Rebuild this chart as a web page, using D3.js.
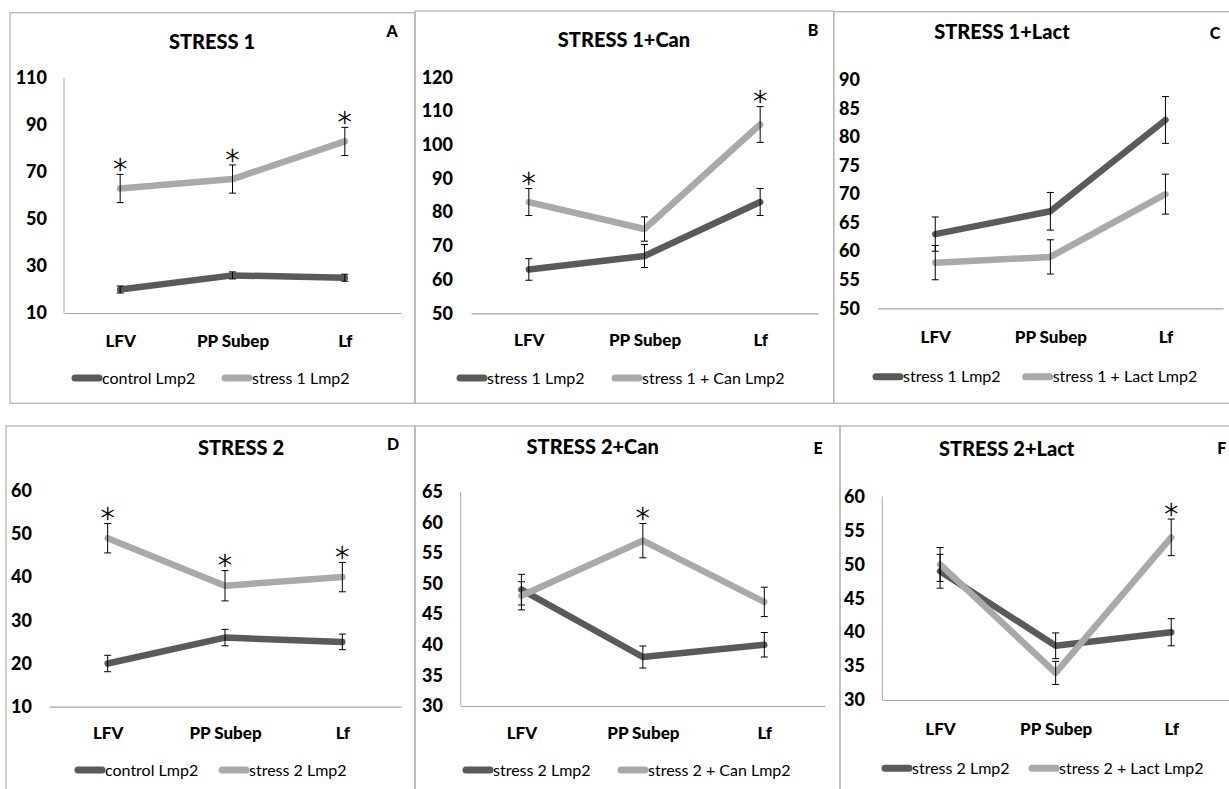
<!DOCTYPE html>
<html>
<head>
<meta charset="utf-8">
<script src="https://cdn.jsdelivr.net/npm/d3@7"></script>
<style>
  html, body { margin: 0; padding: 0; background: #fff; }
  svg { display: block; }
  text { font-family: Lato, "Liberation Sans", sans-serif; fill: #000; }
</style>
</head>
<body>
<svg id="chart" width="1229" height="789"></svg>
<script>
// ---------------- DATA ----------------
const categories = ["LFV", "PP Subep", "Lf"];

// Panel A: STRESS 1
const aTicks = [10, 30, 50, 70, 90, 110];
const aControl = [20, 26, 25];
const aControlErr = [1.5, 1.5, 1.5];
const aStress1 = [63, 67, 83];
const aStress1Err = [6, 6, 6];
const aStars = [true, true, true];

// Panel B: STRESS 1+Can
const bTicks = [50, 60, 70, 80, 90, 100, 110, 120];
const bStress1 = [63, 67, 83];
const bStress1Err = [3.2, 3.4, 4];
const bCan = [83, 75, 106];
const bCanErr = [4, 3.6, 5.3];
const bStars = [true, false, true];

// Panel C: STRESS 1+Lact
const cTicks = [50, 55, 60, 65, 70, 75, 80, 85, 90];
const cStress1 = [63, 67, 83];
const cStress1Err = [3, 3.3, 4.1];
const cLact = [58, 59, 70];
const cLactErr = [3, 3, 3.5];
const cStars = [false, false, false];

// Panel D: STRESS 2
const dTicks = [10, 20, 30, 40, 50, 60];
const dControl = [20, 26, 25];
const dControlErr = [1.9, 1.9, 1.8];
const dStress2 = [49, 38, 40];
const dStress2Err = [3.4, 3.5, 3.4];
const dStars = [true, true, true];

// Panel E: STRESS 2+Can
const eTicks = [30, 35, 40, 45, 50, 55, 60, 65];
const eStress2 = [49, 38, 40];
const eStress2Err = [2.5, 1.8, 2];
const eCan = [48, 57, 47];
const eCanErr = [2.3, 2.8, 2.4];
const eStars = [false, true, false];

// Panel F: STRESS 2+Lact
const fTicks = [30, 35, 40, 45, 50, 55, 60];
const fStress2 = [49, 38, 40];
const fStress2Err = [2.5, 1.9, 2];
const fLact = [50, 34, 54];
const fLactErr = [2.5, 1.7, 2.7];
const fStars = [false, false, true];

const titles = ["STRESS 1", "STRESS 1+Can", "STRESS 1+Lact", "STRESS 2", "STRESS 2+Can", "STRESS 2+Lact"];
const letters = ["A", "B", "C", "D", "E", "F"];
const legendNames = [
  ["control Lmp2", "stress 1 Lmp2"],
  ["stress 1 Lmp2", "stress 1 + Can Lmp2"],
  ["stress 1 Lmp2", "stress 1 + Lact Lmp2"],
  ["control Lmp2", "stress 2 Lmp2"],
  ["stress 2 Lmp2", "stress 2 + Can Lmp2"],
  ["stress 2 Lmp2", "stress 2 + Lact Lmp2"]
];

// ---------------- STYLE / LAYOUT ----------------
const darkColor = "#5a5a5a";
const lightColor = "#a9a9a9";
const frameColor = "#b4b4b4";
const axisColor = "#a6a6a6";
const FONT = "Lato, 'Liberation Sans', sans-serif";

const panels = [
  { ticks: aTicks, dark: aControl, darkErr: aControlErr, light: aStress1, lightErr: aStress1Err, stars: aStars,
    frame: [10, 12.7, 405, 390.6], x0: 64, x1: 401, yTop: 78, yBot: 313, yLine: true, tickRight: 47,
    title: [212, 42], letter: [392, 31], catY: 341, legY: 378, leg: [72, 222] },
  { ticks: bTicks, dark: bStress1, darkErr: bStress1Err, light: bCan, lightErr: bCanErr, stars: bStars,
    frame: [415, 11, 418.7, 392.3], x0: 471, x1: 818, yTop: 77.3, yBot: 313.3, yLine: false, tickRight: 453,
    title: [624, 40], letter: [813, 30], catY: 340, legY: 378, leg: [457, 612] },
  { ticks: cTicks, dark: cStress1, darkErr: cStress1Err, light: cLact, lightErr: cLactErr, stars: cStars,
    frame: [833.7, 11.7, 420, 391.6], x0: 877.7, x1: 1223, yTop: 80, yBot: 308.3, yLine: false, tickRight: 860,
    title: [1002, 32], letter: [1215, 33], catY: 336.7, legY: 376.7, leg: [873, 1022.7] },
  { ticks: dTicks, dark: dControl, darkErr: dControlErr, light: dStress2, lightErr: dStress2Err, stars: dStars,
    frame: [6, 426, 409, 420], x0: 49, x1: 401, yTop: 490.7, yBot: 706.7, yLine: false, tickRight: 32,
    title: [241, 448], letter: [393, 444], catY: 732.7, legY: 770, leg: [75, 219] },
  { ticks: eTicks, dark: eStress2, darkErr: eStress2Err, light: eCan, lightErr: eCanErr, stars: eStars,
    frame: [415, 426, 425, 420], x0: 460.7, x1: 825, yTop: 491.7, yBot: 706, yLine: true, tickRight: 443,
    title: [592.7, 446.7], letter: [818, 448], catY: 732.7, legY: 770, leg: [463, 618] },
  { ticks: fTicks, dark: fStress2, darkErr: fStress2Err, light: fLact, lightErr: fLactErr, stars: fStars,
    frame: [840, 426, 420, 420], x0: 882.3, x1: 1229, yTop: 496.7, yBot: 700, yLine: true, tickRight: 865,
    title: [1006.7, 449.3], letter: [1221.7, 448], catY: 729.3, legY: 768.3, leg: [882, 1029] }
];

const svg = d3.select("#chart");

panels.forEach((p, i) => {
  const g = svg.append("g");

  // frame
  g.append("rect")
    .attr("x", p.frame[0]).attr("y", p.frame[1])
    .attr("width", p.frame[2]).attr("height", p.frame[3])
    .attr("fill", "none").attr("stroke", frameColor).attr("stroke-width", 1.3);

  const y = d3.scaleLinear()
    .domain([p.ticks[0], p.ticks[p.ticks.length - 1]])
    .range([p.yBot, p.yTop]);
  const x = d3.scalePoint().domain(categories).range([p.x0, p.x1]).padding(0.5);

  // y axis labels
  const ya = g.append("g")
    .attr("transform", `translate(${p.tickRight},0)`)
    .call(d3.axisLeft(y).tickValues(p.ticks).tickSize(0).tickPadding(0).tickFormat(d3.format("d")));
  ya.attr("font-family", FONT).attr("font-size", 18).attr("font-weight", "bold");
  ya.select(".domain").remove();
  ya.selectAll("text")
    .style("font-family", FONT).style("font-size", "18px").style("font-weight", "900").attr("fill", "#000");

  if (p.yLine) {
    g.append("line")
      .attr("x1", p.x0).attr("x2", p.x0)
      .attr("y1", p.yTop).attr("y2", p.yBot)
      .attr("stroke", axisColor).attr("stroke-width", 1);
  }

  // x axis
  const xa = g.append("g")
    .attr("transform", `translate(0,${p.yBot})`)
    .call(d3.axisBottom(x).tickSize(0).tickSizeOuter(0));
  xa.attr("font-family", FONT);
  xa.select(".domain").attr("stroke", axisColor).attr("stroke-width", 1.2);
  xa.selectAll("text")
    .attr("y", p.catY - p.yBot).attr("dy", "0.35em")
    .style("font-family", FONT).style("font-size", "17px").style("font-weight", "900").attr("fill", "#000");

  // lines
  const line = d3.line().x((d, k) => x(categories[k])).y(d => y(d));
  g.append("path").datum(p.dark).attr("d", line)
    .attr("fill", "none").attr("stroke", darkColor).attr("stroke-width", 6.5)
    .attr("stroke-linejoin", "round").attr("stroke-linecap", "round");
  g.append("path").datum(p.light).attr("d", line)
    .attr("fill", "none").attr("stroke", lightColor).attr("stroke-width", 6.5)
    .attr("stroke-linejoin", "round").attr("stroke-linecap", "round");

  // error bars
  [[p.dark, p.darkErr], [p.light, p.lightErr]].forEach(([vals, errs]) => {
    vals.forEach((v, k) => {
      const cx = x(categories[k]);
      const yt = y(v + errs[k]), yb = y(v - errs[k]);
      const eg = g.append("g").attr("stroke", "#000").attr("stroke-width", 1);
      eg.append("line").attr("x1", cx).attr("x2", cx).attr("y1", yt).attr("y2", yb);
      eg.append("line").attr("x1", cx - 3.5).attr("x2", cx + 3.5).attr("y1", yt).attr("y2", yt);
      eg.append("line").attr("x1", cx - 3.5).attr("x2", cx + 3.5).attr("y1", yb).attr("y2", yb);
    });
  });

  // significance stars
  const starSize = 28;
  p.stars.forEach((s, k) => {
    if (!s) return;
    const cx = x(categories[k]);
    const cy = y(p.light[k] + p.lightErr[k]) - 11;
    g.append("text")
      .attr("x", cx).attr("y", cy + 0.56 * starSize)
      .attr("text-anchor", "middle")
      .style("font-family", "'DejaVu Sans', sans-serif")
      .style("font-weight", "200")
      .style("font-size", starSize + "px")
      .attr("fill", "#111").attr("stroke", "#111").attr("stroke-width", 0.6)
      .text("*");
  });

  // title & letter
  g.append("text")
    .attr("x", p.title[0]).attr("y", p.title[1]).attr("dy", "0.35em")
    .attr("text-anchor", "middle").style("font-weight", "900").style("font-size", "20px")
    .text(titles[i]);
  g.append("text")
    .attr("x", p.letter[0]).attr("y", p.letter[1]).attr("dy", "0.35em")
    .attr("text-anchor", "middle").style("font-weight", "900").style("font-size", "16px")
    .text(letters[i]);

  // legend
  [darkColor, lightColor].forEach((c, j) => {
    const lx = p.leg[j];
    g.append("line")
      .attr("x1", lx + 3).attr("x2", lx + 27)
      .attr("y1", p.legY).attr("y2", p.legY)
      .attr("stroke", c).attr("stroke-width", 7).attr("stroke-linecap", "round");
    g.append("text")
      .attr("x", lx + 30).attr("y", p.legY).attr("dy", "0.35em")
      .style("font-size", "16px")
      .text(legendNames[i][j]);
  });
});
</script>
</body>
</html>
